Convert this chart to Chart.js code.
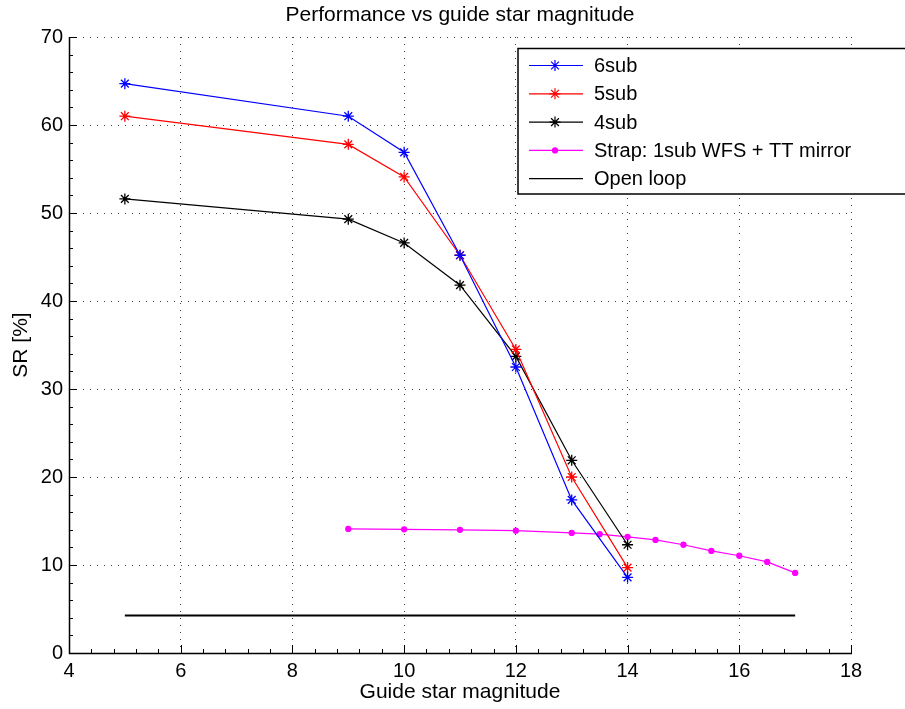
<!DOCTYPE html>
<html>
<head>
<meta charset="utf-8">
<script src="https://cdn.jsdelivr.net/npm/chart.js@4/dist/chart.umd.min.js"></script>
<style>
  html, body { margin: 0; padding: 0; background: #fff; }
  #wrap { width: 905px; height: 709px; }
</style>
</head>
<body>
<div id="wrap"><canvas id="c" width="905" height="709"></canvas></div>
<script>
// data
const magAO = [5, 9, 10, 11, 12, 13, 14];
const sr6sub = [64.7, 61.0, 56.9, 45.2, 32.5, 17.4, 8.6];
const sr5sub = [61.0, 57.8, 54.1, 45.2, 34.5, 20.0, 9.7];
const sr4sub = [51.6, 49.3, 46.6, 41.8, 33.7, 21.9, 12.3];
const magStrap = [9, 10, 11, 12, 13, 13.5, 14, 14.5, 15, 15.5, 16, 16.5, 17];
const srStrap = [14.1, 14.05, 14.0, 13.9, 13.65, 13.5, 13.2, 12.85, 12.3, 11.6, 11.05, 10.35, 9.1];
const magOpen = [5, 17];
const srOpen = [4.25, 4.25];
const xTicks = [4, 6, 8, 10, 12, 14, 16, 18];
const yTicks = [0, 10, 20, 30, 40, 50, 60, 70];

const FONT = "'Liberation Sans', Arial, Helvetica, sans-serif";

const pts = (xs, ys) => xs.map((x, i) => ({ x: x, y: ys[i] }));

const datasets = [
  { label: "6sub", data: pts(magAO, sr6sub), borderColor: "#0000ff", pointStyle: "star" },
  { label: "5sub", data: pts(magAO, sr5sub), borderColor: "#ff0000", pointStyle: "star" },
  { label: "4sub", data: pts(magAO, sr4sub), borderColor: "#000000", pointStyle: "star" },
  { label: "Strap: 1sub WFS + TT mirror", data: pts(magStrap, srStrap), borderColor: "#ff00ff",
    pointStyle: "circle", backgroundColor: "#ff00ff", pointRadius: 2.5 },
  { label: "Open loop", data: pts(magOpen, srOpen), borderColor: "#000000", borderWidth: 2, pointRadius: 0 }
].map(d => Object.assign({
  borderWidth: 1.2,
  pointRadius: 5.5,
  pointBorderWidth: 1.3,
  pointBorderColor: d.borderColor,
  pointBackgroundColor: d.backgroundColor || d.borderColor,
  tension: 0,
  fill: false
}, d));

// left/bottom axis lines, inward ticks, title and legend, MATLAB style
const decor = {
  id: "decor",
  afterDraw(chart) {
    const ctx = chart.ctx;
    const a = chart.chartArea;
    const xs = chart.scales.x, ys = chart.scales.y;
    ctx.save();
    ctx.strokeStyle = "#000";
    ctx.lineWidth = 1;

    const tick = (px, len, horiz) => {
      ctx.beginPath();
      if (horiz) { ctx.moveTo(px, a.bottom); ctx.lineTo(px, a.bottom - len); }
      else { ctx.moveTo(a.left, px); ctx.lineTo(a.left + len, px); }
      ctx.stroke();
    };
    for (let v = 4; v <= 18.001; v += 0.4) tick(Math.round(xs.getPixelForValue(v)) + 0.5, 4, true);
    xTicks.forEach(v => tick(Math.round(xs.getPixelForValue(v)) + 0.5, 8, true));
    for (let v = 0; v <= 70.001; v += 2) tick(Math.round(ys.getPixelForValue(v)) + 0.5, 4, false);
    yTicks.forEach(v => tick(Math.round(ys.getPixelForValue(v)) + 0.5, 8, false));

    ctx.lineWidth = 1.5;
    ctx.beginPath();
    ctx.moveTo(a.left + 0.5, a.top);
    ctx.lineTo(a.left + 0.5, a.bottom + 0.5);
    ctx.lineTo(a.right + 1, a.bottom + 0.5);
    ctx.stroke();

    // title
    ctx.fillStyle = "#000";
    ctx.font = "21px " + FONT;
    ctx.textAlign = "center";
    ctx.textBaseline = "middle";
    ctx.fillText("Performance vs guide star magnitude", (a.left + a.right) / 2, 15);

    // legend, its right side runs off the canvas as in the original
    const lx = 518, ly = 48.5, lw = 400, lh = 145.5;
    ctx.fillStyle = "#fff";
    ctx.fillRect(lx, ly, lw, lh);
    ctx.strokeStyle = "#000";
    ctx.lineWidth = 1.5;
    ctx.strokeRect(lx, ly, lw, lh);
    ctx.font = "20px " + FONT;
    ctx.textAlign = "left";
    chart.data.datasets.forEach((d, i) => {
      const y = ly + 17 + i * 28.3;
      ctx.strokeStyle = d.borderColor;
      ctx.lineWidth = 1.2;
      ctx.beginPath();
      ctx.moveTo(lx + 11, y); ctx.lineTo(lx + 65, y);
      ctx.stroke();
      if (d.pointRadius > 0) {
        Chart.helpers.drawPoint(ctx, {
          pointStyle: d.pointStyle, radius: d.pointRadius, rotation: 0,
          borderWidth: d.pointBorderWidth
        }, lx + 37, y);
        ctx.fillStyle = d.pointBackgroundColor;
        if (d.pointStyle === "circle") {
          ctx.beginPath(); ctx.arc(lx + 37, y, d.pointRadius, 0, Math.PI * 2); ctx.fill();
        }
      }
      ctx.fillStyle = "#000";
      ctx.fillText(d.label, lx + 76, y + 1);
    });
    ctx.restore();
  }
};

new Chart(document.getElementById("c"), {
  type: "line",
  data: { datasets: datasets },
  options: {
    responsive: false,
    animation: false,
    events: [],
    layout: { padding: { top: 37, right: 54, left: 0, bottom: 0 } },
    scales: {
      x: {
        type: "linear",
        min: 4, max: 18,
        afterFit: s => { s.height = 56; },
        afterBuildTicks: s => { s.ticks = xTicks.map(v => ({ value: v })); },
        grid: { color: "#444", lineWidth: 1, drawTicks: false },
        border: { display: false, dash: [1, 6] },
        ticks: { color: "#000", padding: 6, font: { family: FONT, size: 20 } },
        title: { display: true, text: "Guide star magnitude", color: "#000",
                 font: { family: FONT, size: 21 }, padding: { top: 0, bottom: 4 } }
      },
      y: {
        type: "linear",
        min: 0, max: 70,
        afterFit: s => { s.width = 69; },
        afterBuildTicks: s => { s.ticks = yTicks.map(v => ({ value: v })); },
        grid: { color: "#444", lineWidth: 1, drawTicks: false },
        border: { display: false, dash: [1, 6] },
        ticks: { color: "#000", padding: 6, font: { family: FONT, size: 20 } },
        title: { display: true, text: "SR [%]", color: "#000",
                 font: { family: FONT, size: 21 }, padding: { top: 9, bottom: 0 } }
      }
    },
    plugins: {
      legend: { display: false },
      tooltip: { enabled: false },
      title: { display: false }
    }
  },
  plugins: [decor]
});
</script>
</body>
</html>
